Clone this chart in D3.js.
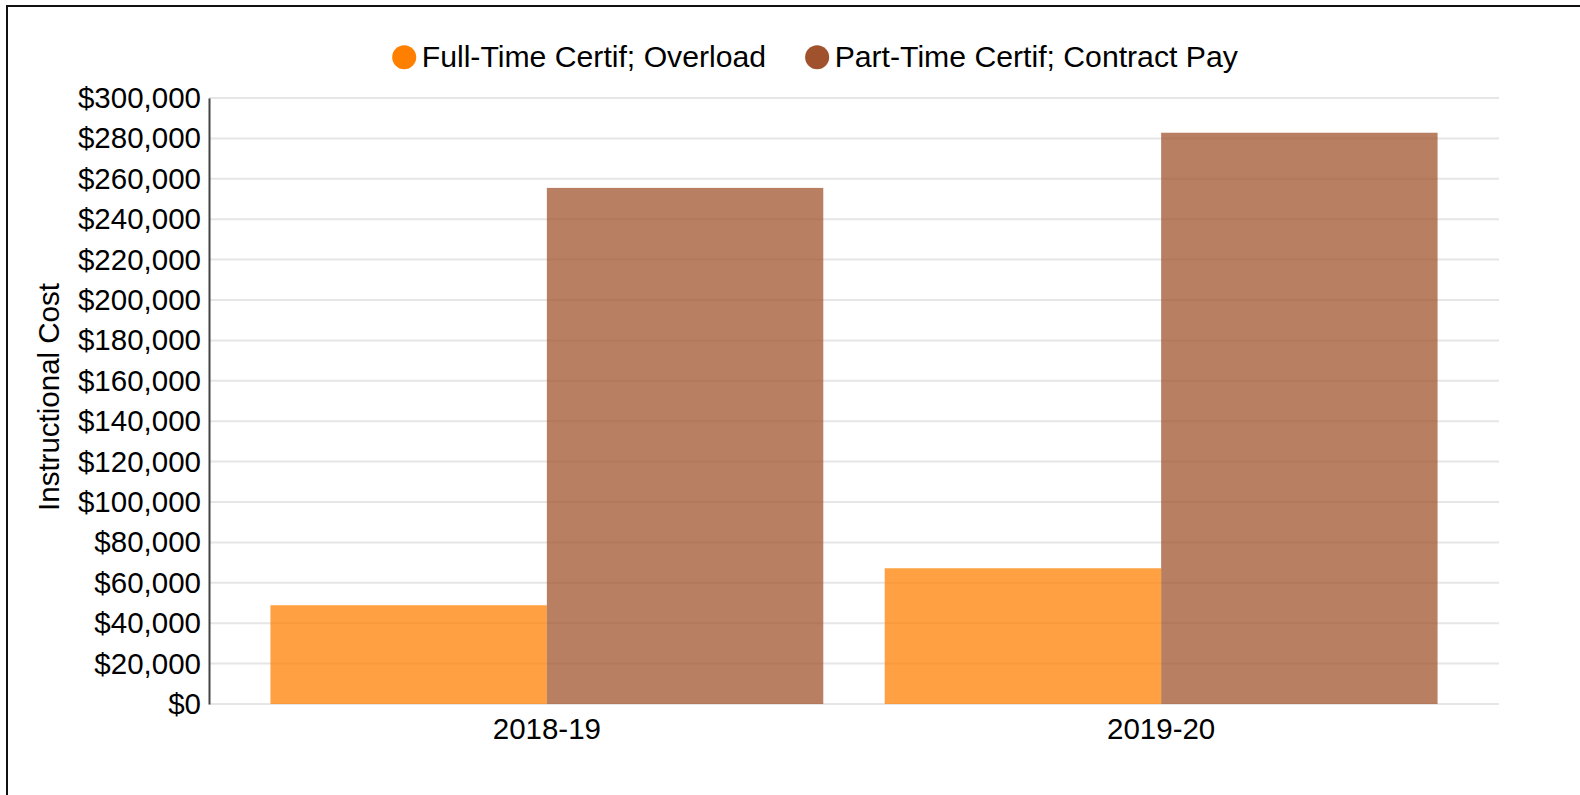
<!DOCTYPE html>
<html>
<head>
<meta charset="utf-8">
<script src="https://cdn.jsdelivr.net/npm/d3@7"></script>
<style>
  html, body { margin: 0; padding: 0; background: #fff; overflow: hidden; }
  #frame { position: absolute; left: 6px; top: 5px; width: 1600px; height: 820px; border: 2px solid #111; box-sizing: border-box; }
  svg { position: absolute; left: 0; top: 0; }
  text { font-family: "Liberation Sans", Arial, Helvetica, sans-serif; fill: #000; }
</style>
</head>
<body>
<div id="frame"></div>
<svg id="chart" width="1580" height="795"></svg>
<script>
const categories = ["2018-19", "2019-20"];
const seriesNames = ["Full-Time Certif; Overload", "Part-Time Certif; Contract Pay"];
const fullTimeOverload = [48900, 67200];
const partTimeContract = [255500, 282800];
const seriesColors = ["#FF8000", "#A0522D"];
const yTicks = [0, 20000, 40000, 60000, 80000, 100000, 120000, 140000, 160000, 180000, 200000, 220000, 240000, 260000, 280000, 300000];
const yTitle = "Instructional Cost";

const W = 1580, H = 795;
const margin = {top: 98, right: 81, bottom: 91, left: 209};
const FS = 29.5;
const LFS = 30.2;

const svg = d3.select("#chart");
const x0 = d3.scaleBand().domain(categories).range([margin.left, W - margin.right]).paddingInner(0.1).paddingOuter(0.1);
const x1 = d3.scaleBand().domain(seriesNames).range([0, x0.bandwidth()]).padding(0);
const y = d3.scaleLinear().domain([0, 300000]).range([H - margin.bottom, margin.top]);

// gridlines
svg.append("g").selectAll("line").data(yTicks).join("line")
  .attr("x1", margin.left).attr("x2", W - margin.right)
  .attr("y1", d => y(d)).attr("y2", d => y(d))
  .attr("stroke", "#e6e6e6").attr("stroke-width", 2);

// bars
const rows = categories.map((c, i) => ({cat: c, vals: [fullTimeOverload[i], partTimeContract[i]]}));
const g = svg.append("g").selectAll("g").data(rows).join("g")
  .attr("transform", d => `translate(${x0(d.cat)},0)`);
g.selectAll("rect").data(d => d.vals.map((v, j) => ({name: seriesNames[j], v, j}))).join("rect")
  .attr("x", d => x1(d.name)).attr("width", x1.bandwidth())
  .attr("y", d => y(d.v)).attr("height", d => y(0) - y(d.v))
  .attr("fill", d => seriesColors[d.j]).attr("fill-opacity", 0.74);

// y axis
const fmt = d3.format("$,");
const yAxis = d3.axisLeft(y).tickValues(yTicks).tickFormat(d => fmt(d)).tickSize(0).tickPadding(8);
const ya = svg.append("g").attr("transform", `translate(${margin.left},0)`).call(yAxis);
ya.select(".domain").attr("stroke", "#444").attr("stroke-width", 2);
ya.selectAll("text").attr("font-size", FS).attr("font-family", "Liberation Sans, Arial, sans-serif").attr("fill", "#000");

// x axis
const xAxis = d3.axisBottom(x0).tickSize(0).tickPadding(14);
const xa = svg.append("g").attr("transform", `translate(0,${y(0)})`).call(xAxis);
xa.select(".domain").remove();
xa.selectAll("text").attr("font-size", FS).attr("font-family", "Liberation Sans, Arial, sans-serif").attr("fill", "#000");

// y title
svg.append("text")
  .attr("transform", `translate(59,397) rotate(-90)`)
  .attr("text-anchor", "middle")
  .attr("font-size", FS)
  .text(yTitle);

// legend
const leg = svg.append("g");
const items = leg.selectAll("g").data(seriesNames).join("g");
items.append("circle").attr("r", 12).attr("cy", 57.3).attr("fill", (d, i) => seriesColors[i]);
items.append("text").attr("y", 66.5).attr("font-size", LFS).text(d => d);
const widths = [];
items.each(function() { widths.push(d3.select(this).select("text").node().getComputedTextLength()); });
const itemW = widths.map(w => 12 + 17.5 + w);
const gap = 39;
const total = itemW.reduce((a, b) => a + b, 0) + gap * (itemW.length - 1);
let start = 815 - total / 2;
items.each(function(d, i) {
  const cx = start + 12;
  d3.select(this).select("circle").attr("cx", cx);
  d3.select(this).select("text").attr("x", cx + 17.5);
  start = cx + 17.5 + widths[i] + gap;
});
</script>
</body>
</html>
